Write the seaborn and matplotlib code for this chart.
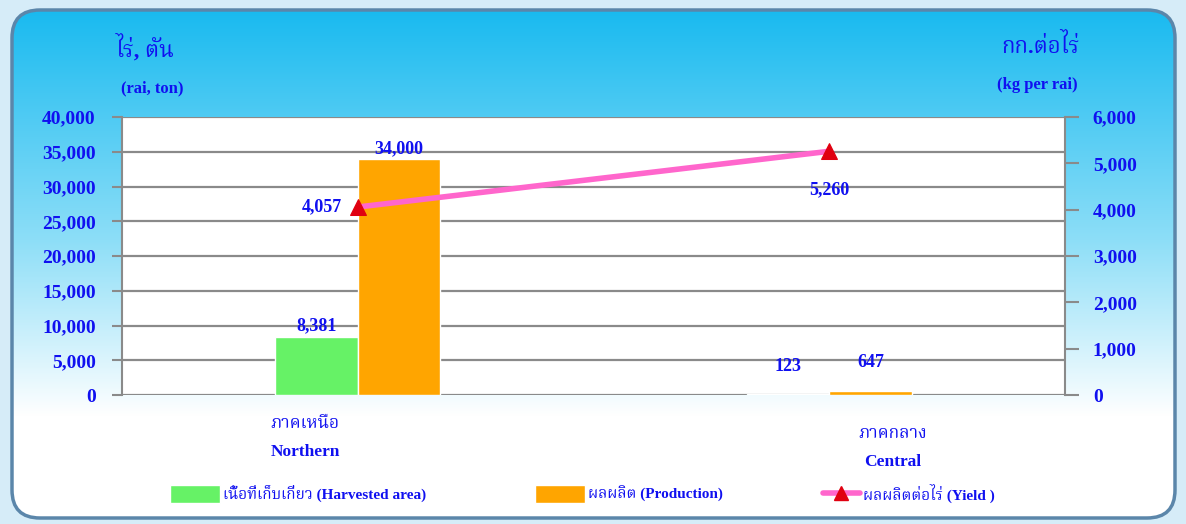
import numpy as np
import pandas as pd
import matplotlib
matplotlib.use('Agg')
import matplotlib.pyplot as plt
import seaborn as sns
from matplotlib.patches import FancyBboxPatch, Patch
from matplotlib.lines import Line2D
from matplotlib.ticker import FuncFormatter

# data
regions = ['ภาคเหนือ\nNorthern', 'ภาคกลาง\nCentral']
area = [8381, 123]
production = [34000, 647]
yield_kg = [4057, 5260]
series_names = ['เนื้อที่เก็บเกี่ยว (Harvested area)', 'ผลผลิต (Production)']
line_name = 'ผลผลิตต่อไร่ (Yield )'

sns.set_theme(style='white')
fonts = ['Liberation Serif', 'Noto Serif Thai', 'Noto Sans Thai', 'Loma', 'Garuda', 'DejaVu Sans']
plt.rcParams['font.family'] = fonts
plt.rcParams['font.weight'] = 'bold'

blue = '#1010f0'
green = '#66f266'
orange = '#ffa500'
pink = '#ff66cc'
red = '#e00010'

fig = plt.figure(figsize=(11.86, 5.24), dpi=100)
fig.patch.set_facecolor('#d6ecf8')

# rounded gradient panel
bg = fig.add_axes([0, 0, 1, 1], zorder=-5)
bg.set_xlim(0, 1186)
bg.set_ylim(524, 0)
bg.axis('off')
grad = np.linspace(0, 1, 256)[:, None]
top = np.array([0.10, 0.73, 0.94])
mid = np.array([0.55, 0.87, 0.97])
low = np.array([1.0, 1.0, 1.0])
cols = np.where(grad[..., None] < 0.45,
                top + (mid - top) * (grad[..., None] / 0.45),
                mid + (low - mid) * np.clip((grad[..., None] - 0.45) / 0.35, 0, 1))
cols = np.repeat(cols, 2, axis=1)
panel = FancyBboxPatch((12, 10), 1163, 508, boxstyle='round,pad=0,rounding_size=28',
                       facecolor='none', edgecolor='#5b86aa', linewidth=2.5)
bg.add_patch(panel)
im = bg.imshow(cols, extent=[12, 1175, 518, 10], aspect='auto')
im.set_clip_path(panel)

ax = fig.add_axes([122 / 1186, 1 - 395 / 524, (1065 - 122) / 1186, (395 - 117) / 524])
ax.set_facecolor('white')

df = pd.DataFrame({
    'region': regions * 2,
    'series': [series_names[0]] * 2 + [series_names[1]] * 2,
    'value': area + production,
})
sns.barplot(data=df, x='region', y='value', hue='series', palette=[green, orange],
            width=0.35, ax=ax, legend=False, saturation=1)
ax.set_ylim(0, 40000)
ax.set_xlim(-0.5, 1.5)
ax.set_yticks(range(0, 40001, 5000))
ax.yaxis.grid(True, color='#8a8a8a', linewidth=1.6)
ax.set_axisbelow(True)
ax.yaxis.set_major_formatter(FuncFormatter(lambda v, p: f'{int(v):,}'))
ax.tick_params(axis='y', length=7, width=1.5, color='#8a8a8a', labelsize=14,
               labelcolor=blue, pad=12, left=True)
ax.tick_params(axis='x', length=0, labelbottom=False)
ax.set_xlabel('')
ax.set_ylabel('')
for s in ['top', 'right', 'bottom']:
    ax.spines[s].set_visible(False)
ax.spines['left'].set_color('#8a8a8a')
ax.spines['left'].set_linewidth(1.5)

# bar labels
offsets = [[(0, 8), (0, 20)], [(0, 7), (0, 20)]]
for si, vals in enumerate([area, production]):
    for i, v in enumerate(vals):
        bar = ax.containers[si][i]
        xc = bar.get_x() + bar.get_width() / 2
        ax.annotate(f'{v:,}', (xc, v), xytext=offsets[si][i], textcoords='offset points',
                    ha='center', va='center', color=blue, fontsize=13, fontweight='bold')

# category labels
cat_off = [(-38, -15), (46, -22)]
for i, lab in enumerate(regions):
    ax.annotate(lab, (i, 0), xytext=cat_off[i], textcoords='offset points', ha='center',
                va='top', color=blue, fontsize=12.5, fontweight='bold', linespacing=2.0,
                annotation_clip=False)

ax2 = ax.twinx()
sns.lineplot(x=np.arange(len(regions)), y=yield_kg, ax=ax2, color=pink, linewidth=4,
             marker='^', markersize=11, markerfacecolor=red, markeredgecolor=red)
ax2.set_ylim(0, 6000)
ax2.set_yticks(range(0, 6001, 1000))
ax2.yaxis.set_major_formatter(FuncFormatter(lambda v, p: f'{int(v):,}'))
ax2.tick_params(axis='y', length=10, width=1.5, color='#8a8a8a', labelsize=14,
                labelcolor=blue, pad=10, right=True)
for s in ['top', 'left', 'bottom']:
    ax2.spines[s].set_visible(False)
ax2.spines['right'].set_color('#8a8a8a')
ax2.spines['right'].set_linewidth(1.5)

line_off = [(-26, 0), (0, -28)]
for i, v in enumerate(yield_kg):
    ax2.annotate(f'{v:,}', (i, v), xytext=line_off[i], textcoords='offset points',
                 ha='center', va='center', color=blue, fontsize=13, fontweight='bold')

# axis titles
fig.text(145 / 1186, 1 - 48 / 524, 'ไร่, ตัน', color=blue, fontsize=16, ha='center', va='center')
fig.text(152 / 1186, 1 - 88 / 524, '(rai, ton)', color=blue, fontsize=12, ha='center', va='center')
fig.text(1040 / 1186, 1 - 46 / 524, 'กก.ต่อไร่', color=blue, fontsize=16, ha='center', va='center')
fig.text(1037 / 1186, 1 - 85 / 524, '(kg per rai)', color=blue, fontsize=12, ha='center', va='center')

# legend, one entry each
handles = [Patch(facecolor=green), Patch(facecolor=orange),
           Line2D([], [], color=pink, linewidth=4, marker='^', markersize=10,
                  markerfacecolor=red, markeredgecolor=red)]
labels = series_names + [line_name]
lefts = [170, 535, 823]
hlen = [3.3, 3.3, 2.4]
for h, lab, x0, hl in zip(handles, labels, lefts, hlen):
    leg = fig.legend([h], [lab], loc='center left', bbox_to_anchor=(x0 / 1186, 1 - 494 / 524),
                     frameon=False, fontsize=11, handlelength=hl, handleheight=1.4,
                     handletextpad=0.2, borderaxespad=0, borderpad=0)
    for t in leg.get_texts():
        t.set_color(blue)

fig.savefig('out.png', dpi=100, facecolor=fig.get_facecolor())
